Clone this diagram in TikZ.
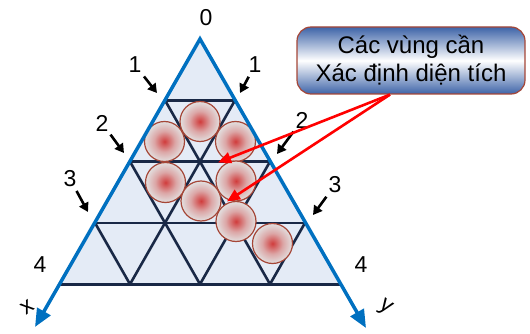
\documentclass[tikz,border=0pt]{standalone}
\usepackage{fontspec}
\setmainfont{Liberation Sans}
\usetikzlibrary{arrows.meta}

\definecolor{axisblue}{RGB}{0,112,192}
\definecolor{gridnavy}{RGB}{25,40,70}
\definecolor{areafill}{RGB}{228,235,246}
\definecolor{ballred}{RGB}{208,60,60}
\definecolor{ballgray}{RGB}{226,224,224}
\definecolor{ballrim}{RGB}{165,70,55}
\definecolor{notebar}{RGB}{62,100,168}

\pgfdeclareradialshading{ballshade}{\pgfpoint{0bp}{0bp}}{%
  color(0bp)=(ballred); color(3bp)=(ballred!85!ballgray);
  color(13bp)=(ballred!35!ballgray); color(25bp)=(ballgray); color(50bp)=(ballgray)}

\tikzset{
  num/.style={font=\fontsize{23}{23}\selectfont, inner sep=1pt},
  pointer/.style={line width=2.6pt, -{Triangle[length=9pt,width=10pt]}, shorten <=3pt},
  hint/.style={red, line width=2.6pt, -{Triangle[length=13pt,width=11pt]}},
  gridline/.style={gridnavy, line width=2.6pt},
  ball/.style={circle, draw=ballrim, line width=1.2pt, minimum size=40pt, inner sep=0pt,
    shading=ballshade},
  callout/.style={draw=ballrim, line width=1.2pt, rounded corners=14pt,
    minimum width=228pt, minimum height=67pt, align=center,
    top color=notebar, bottom color=notebar, middle color=white,
    font=\fontsize{24}{28}\selectfont}
}

\begin{document}
\begin{tikzpicture}[x=1pt, y=-1pt]
  \useasboundingbox (0,0) rectangle (530,334);

  % lattice points p<level><pos>
  \foreach \k in {0,...,4}
    \foreach \j in {0,...,\k}
      \coordinate (p\k\j) at ({200+35*(2*\j-\k)}, {39+61.3*\k});

  \fill[areafill] (p00) -- (p40) -- (p44) -- cycle;

  \foreach \k in {1,...,4}
    \draw[gridline] (p\k0) -- (p\k\k);
  \foreach \k [evaluate=\k as \m using int(4-\k)] in {1,2,3} {
    \draw[gridline] (p\k0) -- (p4\m);
    \draw[gridline] (p\k\k) -- (p4\k);
  }

  \node[ball] (b1) at (200,121.5) {};
  \node[ball] (b2) at (164.5,141.5) {};
  \node[ball] (b3) at (235.5,141.5) {};
  \node[ball] (b4) at (165.5,182.5) {};
  \node[ball] (b5) at (236,181) {};
  \node[ball] (b6) at (201,201) {};
  \node[ball] (b7) at (236,221.5) {};
  \node[ball] (b8) at (272.5,243.5) {};

  % axes
  \coordinate (xend) at (35,327);
  \coordinate (yend) at (366,328);
  \draw[axisblue, line width=3.5pt, line join=miter,
    {Triangle[length=18pt,width=15pt]}-{Triangle[length=18pt,width=15pt]}]
    (xend) -- (p00) -- (yend);

  \node (xlab) at (27,307) [rotate=35, font=\fontsize{23}{23}\selectfont] {x};
  \node (ylab) at (385,308) [rotate=-35, font=\fontsize{23}{23}\selectfont] {y};

  \node[num] (n0) at (206,18) {0};
  \node[num] (n1l) at (135,65) {1};
  \node[num] (n1r) at (255,65) {1};
  \node[num] (n2l) at (102,123) {2};
  \node[num] (n2r) at (302,120) {2};
  \node[num] (n3l) at (70,179) {3};
  \node[num] (n3r) at (335,185) {3};
  \node[num] (n4l) at (40,265) {4};
  \node[num] (n4r) at (361,265) {4};

  \coordinate (e1l) at (157,93);
  \coordinate (e1r) at (240,93);
  \coordinate (e2l) at (124,153);
  \coordinate (e2r) at (277,154);
  \coordinate (e3l) at (88,212);
  \coordinate (e3r) at (313,215);

  \draw[pointer] (n1l) -- (e1l);
  \draw[pointer] (n1r) -- (e1r);
  \draw[pointer] (n2l) -- (e2l);
  \draw[pointer] (n2r) -- (e2r);
  \draw[pointer] (n3l) -- (e3l);
  \draw[pointer] (n3r) -- (e3r);

  \node[callout] (note) at (411,60.5) {Các vùng cần\\Xác định diện tích};
  \coordinate (src) at ([xshift=-21pt]note.south);
  \coordinate (t1) at (218,162.5);
  \coordinate (t2) at (227,201.5);
  \draw[hint] (src) -- (t1);
  \draw[hint] (src) -- (t2);
\end{tikzpicture}
\end{document}
